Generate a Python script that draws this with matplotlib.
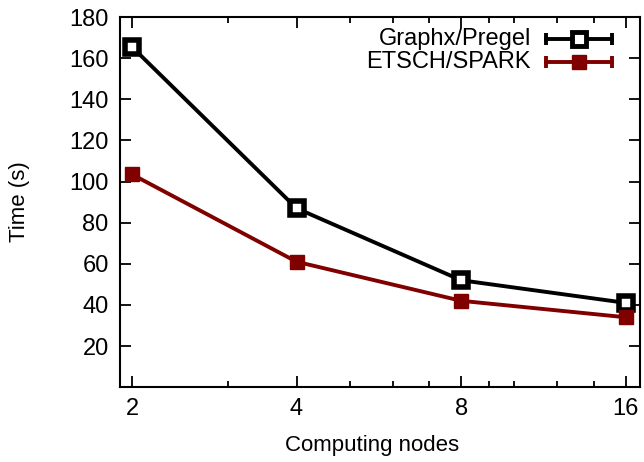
import numpy as np
from matplotlib import pyplot as plt
from matplotlib.ticker import FixedLocator, NullFormatter

plt.rcParams['font.family'] = ['Liberation Sans', 'DejaVu Sans']

nodes = [2, 4, 8, 16]
graphx = [165.5, 87, 52, 41]
etsch = [103.5, 61, 42, 34]
ytick_vals = [20, 40, 60, 80, 100, 120, 140, 160, 180]
minor_x = [3, 5, 6, 7, 9, 10, 12, 14]

dark_red = '#800000'

fig = plt.figure(figsize=(6.44, 4.62), dpi=100)
ax = fig.add_axes([0.186, 0.162, 0.808, 0.801])

ax.plot(nodes, graphx, color='black', lw=2.8, marker='s', ms=10.5,
        mfc='white', mec='black', mew=4, zorder=3)
ax.plot(nodes, etsch, color=dark_red, lw=2.8, marker='s', ms=10,
        mfc=dark_red, mec=dark_red, zorder=3)

ax.set_xscale('log', base=2)
ax.set_xlim(1.9, 17)
ax.set_ylim(0, 180)
ax.xaxis.set_major_locator(FixedLocator(nodes))
ax.set_xticklabels([str(n) for n in nodes])
ax.xaxis.set_minor_locator(FixedLocator(minor_x))
ax.xaxis.set_minor_formatter(NullFormatter())
ax.set_yticks(ytick_vals)

ax.tick_params(axis='both', which='major', direction='in', length=8, width=1.3,
               top=True, right=True, labelsize=17, pad=8)
ax.tick_params(axis='x', which='minor', direction='in', length=4, width=1.3,
               top=True, bottom=True)
for s in ax.spines.values():
    s.set_linewidth(1.5)

ax.set_xlabel('Computing nodes', fontsize=16)
ax.set_ylabel('Time (s)', fontsize=16)
ax.xaxis.set_label_coords(0.485, -0.128)
ax.yaxis.set_label_coords(-0.172, 0.5)

# legend drawn gnuplot style
trans = ax.transAxes
def legend_row(y, label, color, mfc, mew):
    x0, x1 = 0.82, 0.945
    ax.plot([x0, x1], [y, y], color=color, lw=2.8, transform=trans, clip_on=False)
    ax.plot([x0, x1], [y, y], ls='none', marker='|', ms=9, mew=2.8, color=color,
            transform=trans, clip_on=False)
    ax.plot([(x0 + x1) / 2], [y], marker='s', ms=10, mfc=mfc, mec=color,
            mew=mew, transform=trans, clip_on=False)
    ax.text(0.79, y, label, ha='right', va='center', fontsize=17, transform=trans)

legend_row(0.94, 'Graphx/Pregel', 'black', 'white', 3.5)
legend_row(0.878, 'ETSCH/SPARK', dark_red, dark_red, 1)

plt.savefig('out.png', dpi=100)
